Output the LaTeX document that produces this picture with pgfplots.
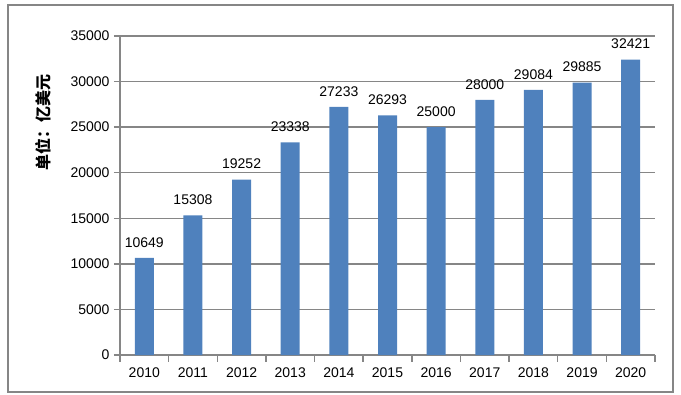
\documentclass[border=0pt]{standalone}
\usepackage{fontspec}
\setmainfont{Liberation Sans}
\newfontfamily\cjk{Noto Sans CJK SC}
\usepackage{pgfplots}
\pgfplotsset{compat=1.18}
\definecolor{barblue}{HTML}{4F81BD}
\definecolor{gridgray}{HTML}{868686}
\begin{document}
\begin{tikzpicture}
\begin{axis}[
  name=ax,
  scale only axis,
  width=535bp, height=319bp,
  xmin=-0.5, xmax=10.5,
  ymin=0, ymax=35000,
  ybar, bar width=19bp,
  axis x line*=bottom, axis y line*=left,
  axis line style={gridgray, line width=1.5bp, -},
  xtick={0,...,10},
  xticklabels={2010,2011,2012,2013,2014,2015,2016,2017,2018,2019,2020},
  minor xtick={-0.5,0.5,...,10.5},
  major x tick style={draw=none},
  minor x tick style={gridgray, line width=1.5bp},
  minor tick length=7bp,
  ytick={0,5000,...,35000},
  major tick length=6bp,
  tick align=outside,
  y tick style={gridgray, line width=1.5bp},
  ymajorgrids,
  grid style={gridgray, line width=1.5bp},
  scaled y ticks=false,
  /pgf/number format/assume math mode=true,
  yticklabel style={/pgf/number format/fixed, /pgf/number format/1000 sep={}, font=\fontsize{14bp}{16bp}\selectfont, xshift=-1bp},
  xticklabel style={font=\fontsize{14bp}{16bp}\selectfont, yshift=-3bp},
  nodes near coords,
  every node near coord/.append style={font=\fontsize{14bp}{16bp}\selectfont, yshift=7bp, /pgf/number format/fixed, /pgf/number format/1000 sep={}},
  ylabel={\cjk\bfseries 单位：亿美元},
  ylabel style={font=\fontsize{16bp}{18bp}\selectfont, at={(axis description cs:0,0.73)}, anchor=center, rotate=0, yshift=77bp},
  clip=false,
]
\addplot[fill=barblue, draw=none] coordinates {
(0,10649) (1,15308) (2,19252) (3,23338) (4,27233) (5,26293) (6,25000) (7,28000) (8,29084) (9,29885) (10,32421)};
\end{axis}
\draw[gridgray, line width=1.5bp] ([xshift=-112bp,yshift=-37bp]ax.south west) rectangle ([xshift=18bp,yshift=31bp]ax.north east);
\useasboundingbox ([xshift=-120bp,yshift=-40bp]ax.south west) rectangle ([xshift=26bp,yshift=36bp]ax.north east);
\end{tikzpicture}
\end{document}
